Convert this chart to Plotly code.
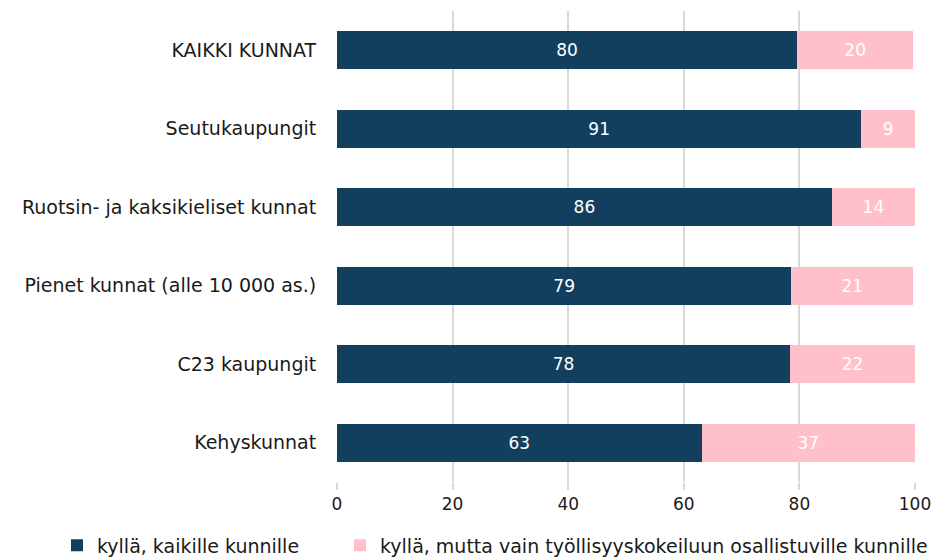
import plotly.graph_objects as go

categories = ["KAIKKI KUNNAT", "Seutukaupungit", "Ruotsin- ja kaksikieliset kunnat",
              "Pienet kunnat (alle 10 000 as.)", "C23 kaupungit", "Kehyskunnat"]
all_munis = [79.6, 90.7, 85.6, 78.6, 78.4, 63.1]
trial_only = [20.1, 9.3, 14.4, 21.1, 21.6, 36.9]
series_names = ["kyllä, kaikille kunnille",
                "kyllä, mutta vain työllisyyskokeiluun osallistuville kunnille"]
x_ticks = [0, 20, 40, 60, 80, 100]

FONT = "DejaVu Sans"
fig = go.Figure()
for name, vals, color, leg in [(series_names[0], all_munis, "#123f5e", "legend"),
                               (series_names[1], trial_only, "#ffc0cb", "legend2")]:
    fig.add_trace(go.Bar(
        y=categories, x=vals, name=name, orientation="h", legend=leg,
        marker=dict(color=color, line=dict(width=0)),
        texttemplate="%{x:.0f}", textposition="inside", insidetextanchor="middle",
        textfont=dict(color="white", size=17, family=FONT),
        hoverinfo="skip",
    ))

leg_common = dict(orientation="h", xref="container", yref="container",
                  xanchor="left", y=0.026, yanchor="middle",
                  font=dict(size=19, family=FONT, color="#1a1a1a"),
                  bgcolor="rgba(0,0,0,0)")

fig.update_layout(
    barmode="stack", bargap=0.51,
    width=947, height=560,
    margin=dict(l=337, r=32, t=11, b=78),
    paper_bgcolor="white", plot_bgcolor="white",
    font=dict(family=FONT, size=17, color="#1a1a1a"),
    showlegend=True,
    legend=dict(x=57 / 947, **leg_common),
    legend2=dict(x=340 / 947, **leg_common),
    xaxis=dict(range=[0, 100], tickvals=x_ticks, showgrid=True,
               gridcolor="#d9d9d9", gridwidth=2, zeroline=False,
               ticks="outside", ticklen=7, tickcolor="#d9d9d9", tickwidth=2,
               tickfont=dict(size=17), showline=False, fixedrange=True),
    yaxis=dict(autorange="reversed", showgrid=False, ticks="outside",
               ticklen=16, tickcolor="rgba(0,0,0,0)",
               tickfont=dict(size=19), showline=False, fixedrange=True),
)
fig.write_html("out.html", config={"displayModeBar": False},
               post_script="document.body.style.margin='0';")
